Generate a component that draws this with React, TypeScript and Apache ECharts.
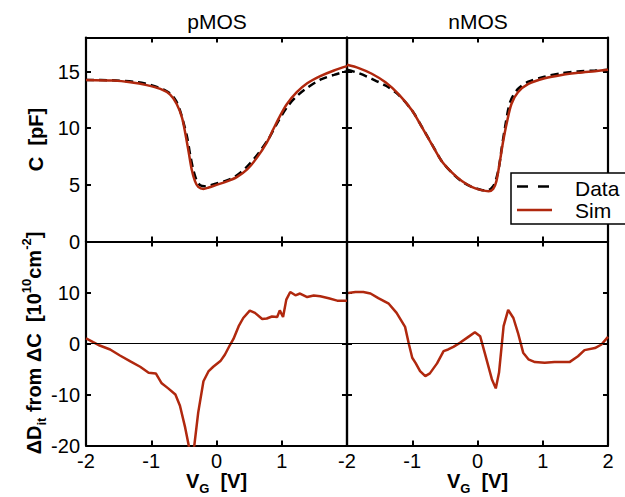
import React, { useEffect, useRef } from 'react';
import * as echarts from 'echarts';

// ---------- data ----------
const pmosDataV = [-2, -1.6, -1.2, -1.0, -0.8, -0.7, -0.62, -0.55, -0.5, -0.45, -0.4, -0.35, -0.3, -0.25, -0.18, -0.1, 0, 0.2, 0.35, 0.5, 0.65, 0.8, 0.95, 1.1, 1.25, 1.4, 1.6, 1.8, 2.0];
const pmosDataC = [14.26, 14.22, 14.05, 13.8, 13.37, 13.0, 12.4, 11.4, 10.36, 9.2, 7.54, 6.2, 5.33, 4.97, 4.88, 4.95, 5.12, 5.47, 6.0, 6.8, 7.84, 9.08, 10.65, 12.0, 12.93, 13.6, 14.3, 14.7, 15.03];

const pmosSimV = [-2, -1.58, -1.32, -1.07, -0.86, -0.71, -0.61, -0.53, -0.48, -0.43, -0.38, -0.33, -0.28, -0.2, -0.12, 0, 0.16, 0.31, 0.47, 0.62, 0.77, 0.87, 0.98, 1.08, 1.23, 1.39, 1.59, 1.8, 2.0];
const pmosSimC = [14.26, 14.2, 14.05, 13.8, 13.46, 12.96, 12.13, 10.95, 9.6, 8.0, 6.36, 5.33, 4.82, 4.64, 4.76, 5.0, 5.3, 5.68, 6.36, 7.4, 8.73, 9.9, 11.15, 12.13, 13.17, 13.96, 14.59, 15.09, 15.47];

const nmosDataV = [-2, -1.82, -1.62, -1.41, -1.21, -1.0, -0.85, -0.7, -0.55, -0.39, -0.24, -0.09, 0.06, 0.15, 0.24, 0.29, 0.33, 0.37, 0.42, 0.5, 0.62, 0.78, 1.03, 1.29, 1.54, 1.8, 2.0];
const nmosDataC = [15.15, 14.85, 14.35, 13.76, 12.93, 11.54, 10.1, 8.6, 7.1, 6.05, 5.3, 4.82, 4.55, 4.5, 4.88, 5.6, 6.6, 8.2, 10.0, 12.3, 13.46, 14.1, 14.55, 14.85, 15.0, 15.08, 15.15];

const nmosSimV = [-2, -1.82, -1.62, -1.41, -1.21, -1.0, -0.85, -0.7, -0.55, -0.39, -0.24, -0.09, 0.06, 0.17, 0.24, 0.29, 0.34, 0.39, 0.45, 0.52, 0.62, 0.78, 1.03, 1.29, 1.54, 1.8, 2.0];
const nmosSimC = [15.59, 15.3, 14.8, 14.05, 13.0, 11.54, 10.06, 8.58, 7.1, 6.07, 5.33, 4.82, 4.53, 4.44, 4.64, 5.33, 6.95, 8.73, 10.5, 12.13, 13.17, 13.9, 14.4, 14.7, 14.88, 15.03, 15.15];

const pDitV = [-2, -1.89, -1.79, -1.63, -1.48, -1.32, -1.17, -1.04, -0.93, -0.84, -0.74, -0.63, -0.56, -0.48, -0.43, -0.39, -0.34, -0.28, -0.2, -0.12, -0.05, 0.06, 0.13, 0.21, 0.26, 0.34, 0.41, 0.51, 0.59, 0.7, 0.77, 0.85, 0.93, 0.97, 1.02, 1.07, 1.13, 1.21, 1.28, 1.39, 1.49, 1.59, 1.72, 1.85, 2.0];
const pDit = [1.0, 0.26, -0.4, -1.17, -2.35, -3.5, -4.56, -5.73, -5.86, -7.8, -8.8, -10, -12.2, -16.5, -19.7, -23, -20, -13.5, -7.4, -5.4, -4.56, -3.45, -2.15, -0.2, 0.9, 3.4, 5.0, 6.45, 6.0, 4.8, 4.9, 5.3, 5.2, 6.5, 5.2, 8.6, 10.1, 9.45, 9.8, 9.1, 9.4, 9.25, 8.86, 8.4, 8.4];

const nDitV = [-1.98, -1.87, -1.75, -1.64, -1.52, -1.36, -1.24, -1.11, -1.05, -1.0, -0.95, -0.88, -0.8, -0.73, -0.62, -0.52, -0.45, -0.37, -0.27, -0.14, -0.04, 0.04, 0.11, 0.22, 0.28, 0.33, 0.4, 0.47, 0.55, 0.62, 0.7, 0.78, 0.88, 1.03, 1.18, 1.41, 1.54, 1.64, 1.8, 1.9, 2.0];
const nDit = [9.9, 10.1, 10.1, 9.8, 8.9, 7.8, 6.0, 3.26, -0.2, -2.8, -3.8, -5.4, -6.4, -5.86, -3.9, -1.5, -1.17, -0.65, 0.13, 1.3, 2.2, 1.43, -1.8, -7.0, -8.8, -5.7, 3.4, 6.6, 5.0, 2.1, -1.8, -3.1, -3.65, -3.78, -3.65, -3.65, -2.5, -1.3, -0.9, -0.2, 1.3];

const panelTitles = ['pMOS', 'nMOS'];
const legendLabels = ['Data', 'Sim'];
const xTicks = [-2, -1, 0, 1, 2];
const cTicks = [0, 5, 10, 15];
const ditTicks = [-20, -10, 0, 10, 20];

// ---------- style ----------
const RED = '#b0280e';
const FONT = 'Liberation Sans';
const TICK_FS = 20;

const zip = (xs: number[], ys: number[]) => xs.map((x, i) => [x, ys[i]]);

export default function App() {
  const ref = useRef<HTMLDivElement>(null);

  useEffect(() => {
    const chart = echarts.init(ref.current!, null, { renderer: 'svg' });

    const grids = [
      { left: 86, top: 37.5, width: 261, height: 204 },
      { left: 347, top: 37.5, width: 261, height: 204 },
      { left: 86, top: 241.5, width: 261, height: 204 },
      { left: 347, top: 241.5, width: 261, height: 204 },
    ];

    const axisLine = { show: true, onZero: false, lineStyle: { color: '#000', width: 2.2 } };
    const tickStyle = { color: '#000', width: 2 };
    const labelBase = { color: '#000', fontSize: TICK_FS, fontFamily: FONT };

    const xAxis: any[] = [];
    const yAxis: any[] = [];
    grids.forEach((_, i) => {
      const bottom = i >= 2;
      const xLabelVals = i === 2 ? [-2, -1, 0, 1] : i === 3 ? xTicks : null;
      ['bottom', 'top'].forEach((pos) => {
        xAxis.push({
          type: 'value', gridIndex: i, position: pos, min: -2, max: 2, interval: 1,
          axisLine,
          axisTick: { show: true, inside: true, length: 5, lineStyle: tickStyle, customValues: xTicks },
          axisLabel: pos === 'bottom' && xLabelVals
            ? { show: true, margin: 5, customValues: xLabelVals, ...labelBase }
            : { show: false },
          splitLine: { show: false },
        });
      });
      const yTicks = bottom ? ditTicks : cTicks;
      const yLabelVals = i === 0 ? cTicks : i === 2 ? [-20, -10, 0, 10] : null;
      ['left', 'right'].forEach((pos) => {
        yAxis.push({
          type: 'value', gridIndex: i, position: pos,
          min: bottom ? -20 : 0, max: bottom ? 20 : 18, interval: bottom ? 10 : 5,
          axisLine,
          axisTick: { show: true, inside: true, length: 5, lineStyle: tickStyle, customValues: yTicks },
          axisLabel: pos === 'left' && yLabelVals
            ? { show: true, margin: 6, customValues: yLabelVals, ...labelBase }
            : { show: false },
          splitLine: { show: false },
        });
      });
    });

    const lineBase = { type: 'line', symbol: 'none', showSymbol: false, clip: true, z: 3 };
    const zeroLine = {
      silent: true, symbol: ['none', 'none'], label: { show: false },
      lineStyle: { color: '#000', width: 1.2, type: 'solid' },
      data: [{ yAxis: 0 }],
    };

    const series: any[] = [
      { ...lineBase, name: 'Data', xAxisIndex: 0, yAxisIndex: 0, smooth: 0.3, data: zip(pmosDataV, pmosDataC), lineStyle: { color: '#000', width: 2.5, type: [8, 5] } },
      { ...lineBase, name: 'Sim', xAxisIndex: 0, yAxisIndex: 0, smooth: 0.3, data: zip(pmosSimV, pmosSimC), lineStyle: { color: RED, width: 2.5 } },
      { ...lineBase, name: 'Data', xAxisIndex: 2, yAxisIndex: 2, smooth: 0.3, data: zip(nmosDataV, nmosDataC), lineStyle: { color: '#000', width: 2.5, type: [8, 5] } },
      { ...lineBase, name: 'Sim', xAxisIndex: 2, yAxisIndex: 2, smooth: 0.3, data: zip(nmosSimV, nmosSimC), lineStyle: { color: RED, width: 2.5 } },
      { ...lineBase, name: 'pMOS ΔDit', xAxisIndex: 4, yAxisIndex: 4, data: zip(pDitV, pDit), lineStyle: { color: RED, width: 2.5 }, markLine: zeroLine },
      { ...lineBase, name: 'nMOS ΔDit', xAxisIndex: 6, yAxisIndex: 6, data: zip(nDitV, nDit), lineStyle: { color: RED, width: 2.5 }, markLine: zeroLine },
    ];

    const boldRich = {
      b: { fontFamily: FONT, fontWeight: 'bold', fontSize: 20, lineHeight: 28, verticalAlign: 'middle', fill: '#000' },
      sub: { fontFamily: FONT, fontWeight: 'bold', fontSize: 13, lineHeight: 13, verticalAlign: 'bottom', fill: '#000' },
      sup: { fontFamily: FONT, fontWeight: 'bold', fontSize: 13, lineHeight: 13, verticalAlign: 'top', fill: '#000' },
    };

    const graphic: any[] = [
      ...panelTitles.map((t, i) => ({
        type: 'text', x: 217 + i * 261, y: 21,
        style: { text: t, fontFamily: FONT, fontSize: 21, fill: '#000', align: 'center', verticalAlign: 'middle' },
      })),
      ...[0, 1].map((i) => ({
        type: 'text', x: 216.5 + i * 261, y: 481,
        style: { text: '{b|V}{sub|G}{b|  [V]}', rich: boldRich, align: 'center', verticalAlign: 'middle' },
      })),
      {
        type: 'text', x: 36, y: 139.5, rotation: Math.PI / 2,
        style: { text: 'C  [pF]', fontFamily: FONT, fontWeight: 'bold', fontSize: 20, fill: '#000', align: 'center', verticalAlign: 'middle' },
      },
      {
        type: 'text', x: 34, y: 343, rotation: Math.PI / 2,
        style: {
          text: '{b|ΔD}{sub|it}{b| from ΔC  [10}{sup|10}{b|cm}{sup|-2}{b|]}',
          rich: boldRich, align: 'center', verticalAlign: 'middle',
        },
      },
      // legend
      {
        type: 'rect', z: 100, shape: { x: 511, y: 173, width: 130, height: 51 },
        style: { fill: '#fff', stroke: '#000', lineWidth: 1.5 },
      },
      {
        type: 'line', z: 101, shape: { x1: 517, y1: 186.5, x2: 552, y2: 186.5 },
        style: { stroke: '#000', lineWidth: 2.5, lineDash: [11, 10] },
      },
      {
        type: 'line', z: 101, shape: { x1: 517, y1: 210, x2: 552, y2: 210 },
        style: { stroke: RED, lineWidth: 2.5 },
      },
      ...legendLabels.map((t, i) => ({
        type: 'text', z: 101, x: 575, y: 188 + i * 22.5,
        style: { text: t, fontFamily: FONT, fontSize: 21, fill: '#000', align: 'left', verticalAlign: 'middle' },
      })),
    ];

    chart.setOption({
      animation: false,
      backgroundColor: '#fff',
      grid: grids.map((g) => ({ ...g, containLabel: false })),
      xAxis,
      yAxis,
      series,
      graphic,
    });

    return () => chart.dispose();
  }, []);

  return <div ref={ref} style={{ position: 'absolute', left: 0, top: 0, width: 625, height: 497 }} />;
}
